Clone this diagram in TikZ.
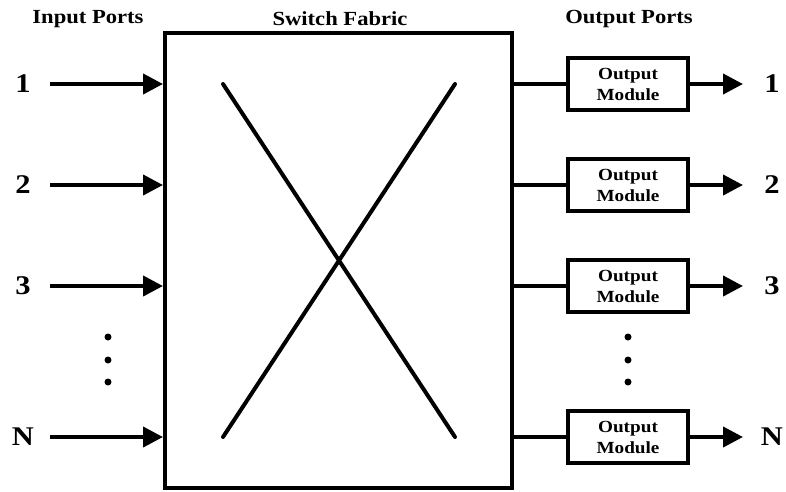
\documentclass[tikz,border=0pt]{standalone}
\usepackage{fontspec}
\setmainfont[FakeStretch=1.13]{Liberation Serif}
\usetikzlibrary{arrows.meta}
\begin{document}
\begin{tikzpicture}[x=1pt,y=-1pt]
\tikzstyle{title}=[font=\fontsize{20}{22}\selectfont\bfseries, inner sep=0pt]
\tikzstyle{port}=[font=\fontsize{27}{29}\selectfont\bfseries, inner sep=0pt]
\tikzstyle{fabric}=[draw, line width=4pt, minimum width=347pt, minimum height=455pt, inner sep=0pt]
\tikzstyle{module}=[draw, line width=4pt, minimum width=120pt, minimum height=52pt, inner sep=0pt, align=center, font=\fontsize{17}{21}\selectfont\bfseries]
\tikzstyle{port-arrow}=[line width=4pt, -{Triangle[length=20pt,width=20pt]}]
\tikzstyle{port-line}=[line width=4pt]
\tikzstyle{cross}=[line width=4pt, line cap=round]
\tikzstyle{dot}=[circle, fill, inner sep=0pt, minimum size=7pt]
\useasboundingbox (0,0) rectangle (786,491);

\node[style=title] (tin) at (88,19) {Input Ports};
\node[style=title] (tfab) at (340,19) {Switch Fabric};
\node[style=title] (tout) at (629,19) {Output Ports};

\node[style=fabric] (fabric) at (338.5,260.5) {};

\node[style=port] (lin1) at (23,84) {1};
\node[style=port] (lin2) at (23,185) {2};
\node[style=port] (lin3) at (23,286) {3};
\node[style=port] (linN) at (23,437) {N};

\coordinate (in1) at (50,84);
\coordinate (in2) at (50,185);
\coordinate (in3) at (50,286);
\coordinate (inN) at (50,437);

\draw[style=port-arrow] (in1) -- (in1 -| fabric.west);
\draw[style=port-arrow] (in2) -- (in2 -| fabric.west);
\draw[style=port-arrow] (in3) -- (in3 -| fabric.west);
\draw[style=port-arrow] (inN) -- (inN -| fabric.west);

\node[style=dot] (din1) at (108,337) {};
\node[style=dot] (din2) at (108,360) {};
\node[style=dot] (din3) at (108,382) {};

\coordinate (xa) at (223,84);
\coordinate (xb) at (455,84);
\coordinate (xc) at (223,437);
\coordinate (xd) at (455,437);
\draw[style=cross] (xa) -- (xd);
\draw[style=cross] (xb) -- (xc);

\node[style=module] (om1) at (628,84) {Output\\Module};
\node[style=module] (om2) at (628,185) {Output\\Module};
\node[style=module] (om3) at (628,286) {Output\\Module};
\node[style=module] (omN) at (628,437) {Output\\Module};

\draw[style=port-line] (om1 -| fabric.east) -- (om1);
\draw[style=port-line] (om2 -| fabric.east) -- (om2);
\draw[style=port-line] (om3 -| fabric.east) -- (om3);
\draw[style=port-line] (omN -| fabric.east) -- (omN);

\node[style=port] (lout1) at (772,84) {1};
\node[style=port] (lout2) at (772,185) {2};
\node[style=port] (lout3) at (772,286) {3};
\node[style=port] (loutN) at (772,437) {N};

\coordinate (out1) at (743,84);
\coordinate (out2) at (743,185);
\coordinate (out3) at (743,286);
\coordinate (outN) at (743,437);

\draw[style=port-arrow] (om1) -- (out1);
\draw[style=port-arrow] (om2) -- (out2);
\draw[style=port-arrow] (om3) -- (out3);
\draw[style=port-arrow] (omN) -- (outN);

\node[style=dot] (dout1) at (628,337) {};
\node[style=dot] (dout2) at (628,360) {};
\node[style=dot] (dout3) at (628,382) {};

\end{tikzpicture}
\end{document}
